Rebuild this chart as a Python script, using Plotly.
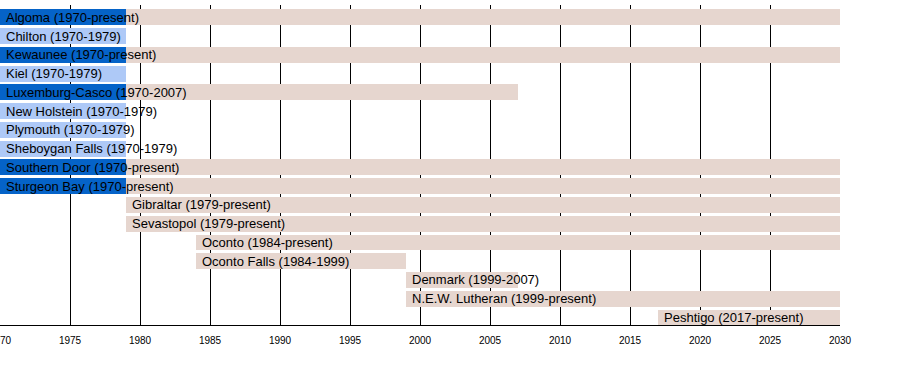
import plotly.graph_objects as go

schools = ["Algoma (1970-present)", "Chilton (1970-1979)", "Kewaunee (1970-present)", "Kiel (1970-1979)",
           "Luxemburg-Casco (1970-2007)", "New Holstein (1970-1979)", "Plymouth (1970-1979)",
           "Sheboygan Falls (1970-1979)", "Southern Door (1970-present)", "Sturgeon Bay (1970-present)",
           "Gibraltar (1979-present)", "Sevastopol (1979-present)", "Oconto (1984-present)",
           "Oconto Falls (1984-1999)", "Denmark (1999-2007)", "N.E.W. Lutheran (1999-present)",
           "Peshtigo (2017-present)"]
label_start = [1970, 1970, 1970, 1970, 1970, 1970, 1970, 1970, 1970, 1970,
               1979, 1979, 1984, 1984, 1999, 1999, 2017]

# segments: (row index, start, end)
dark_rows = [0, 2, 4, 8, 9]
dark_start = [1970, 1970, 1970, 1970, 1970]
dark_end = [1979, 1979, 1979, 1979, 1979]

light_rows = [1, 3, 5, 6, 7]
light_start = [1970, 1970, 1970, 1970, 1970]
light_end = [1979, 1979, 1979, 1979, 1979]

tan_rows = [0, 2, 4, 8, 9, 10, 11, 12, 13, 14, 15, 16]
tan_start = [1979, 1979, 1979, 1979, 1979, 1979, 1979, 1984, 1984, 1999, 1999, 2017]
tan_end = [2030, 2030, 2007, 2030, 2030, 2030, 2030, 2030, 1999, 2007, 2030, 2030]

x_ticks = list(range(1970, 2031, 5))

fig = go.Figure()
for rows, st, en, col in [(dark_rows, dark_start, dark_end, "#0563C8"),
                          (light_rows, light_start, light_end, "#AEC9F7"),
                          (tan_rows, tan_start, tan_end, "#E6D6CF")]:
    fig.add_trace(go.Bar(
        orientation="h", y=rows, base=st, x=[e - s for s, e in zip(st, en)],
        width=0.85, marker=dict(color=col, line=dict(width=0)), hoverinfo="skip",
        showlegend=False))

for i, (name, s) in enumerate(zip(schools, label_start)):
    fig.add_annotation(x=s, y=i, text=name, showarrow=False, xanchor="left", yanchor="middle",
                       xshift=4, font=dict(family="Liberation Sans, Arial", size=13, color="#000"))

fig.update_layout(
    width=900, height=375, margin=dict(l=0, r=60, t=5, b=50),
    plot_bgcolor="white", paper_bgcolor="white", barmode="overlay", bargap=0,
    xaxis=dict(range=[1970, 2030], tickvals=x_ticks, ticktext=[str(t) for t in x_ticks],
               showgrid=True, gridcolor="black", gridwidth=1, showline=True, linecolor="black",
               linewidth=1, zeroline=False, ticks="", automargin=False, ticklabeloverflow="allow",
               ticklabelstandoff=6,
               tickfont=dict(family="Liberation Sans, Arial", size=10, color="#000")),
    yaxis=dict(range=[16.4, -0.66], showticklabels=False, showgrid=False, zeroline=False,
               showline=False, ticks="", automargin=False),
)
fig.write_html("out.html", config={"displayModeBar": False},
               post_script="document.body.style.margin='0';")
